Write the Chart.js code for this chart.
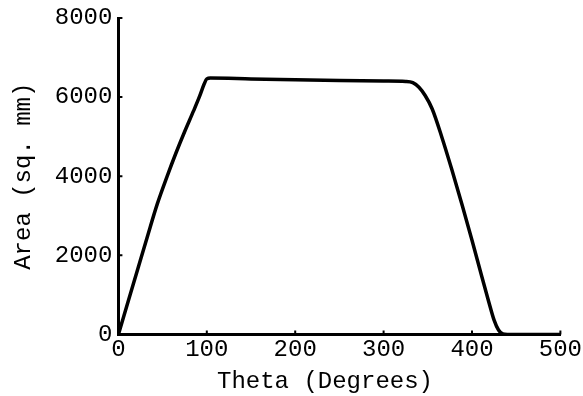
<!DOCTYPE html>
<html>
<head>
<meta charset="utf-8">
<script src="https://cdn.jsdelivr.net/npm/chart.js@4"></script>
<style>
  html, body { margin: 0; padding: 0; background: #fff; }
  #wrap { width: 583px; height: 396px; }
</style>
</head>
<body>
<div id="wrap"><canvas id="areaChart"></canvas></div>
<script>
// values
const thetaValues = [0, 11, 22, 33, 44, 55, 65, 75, 85, 92, 97, 100, 104, 150, 200, 250, 300, 325, 333, 340, 347, 355, 366, 377, 389, 400, 411, 419, 425, 430, 435, 440, 500];
const areaValues  = [0, 830, 1660, 2490, 3300, 3990, 4580, 5130, 5650, 6030, 6330, 6460, 6480, 6460, 6440, 6420, 6405, 6395, 6365, 6250, 6040, 5700, 4980, 4180, 3260, 2380, 1470, 820, 360, 110, 10, 0, 0];
const xTicks = [0, 100, 200, 300, 400, 500];
const yTicks = [0, 2000, 4000, 6000, 8000];

const FONT = "'Liberation Mono', 'Courier New', monospace";

// little tick marks drawn on the inside of the axes, like the original
const innerTicks = {
  id: 'innerTicks',
  afterDraw(chart) {
    const ctx = chart.ctx;
    const x = chart.scales.x, y = chart.scales.y;
    ctx.save();
    ctx.strokeStyle = '#000';
    ctx.lineWidth = 2;
    ctx.beginPath();
    yTicks.slice(1).forEach(v => {
      const py = y.getPixelForValue(v);
      ctx.moveTo(x.left, py);
      ctx.lineTo(x.left + 4, py);
    });
    xTicks.slice(1).forEach(v => {
      const px = x.getPixelForValue(v);
      ctx.moveTo(px, y.bottom);
      ctx.lineTo(px, y.bottom - 4);
    });
    ctx.stroke();
    ctx.restore();
  }
};

new Chart(document.getElementById('areaChart'), {
  type: 'line',
  data: {
    datasets: [{
      data: thetaValues.map((t, i) => ({ x: t, y: areaValues[i] })),
      borderColor: '#000',
      borderWidth: 3.5,
      pointRadius: 0,
      fill: false,
      cubicInterpolationMode: 'monotone'
    }]
  },
  options: {
    responsive: true,
    maintainAspectRatio: false,
    animation: false,
    layout: { padding: { left: 9, top: -2, right: 4, bottom: 0 } },
    plugins: { legend: { display: false }, tooltip: { enabled: false } },
    scales: {
      x: {
        type: 'linear',
        min: 0,
        max: 500,
        afterBuildTicks: s => { s.ticks = xTicks.map(v => ({ value: v })); },
        grid: { drawOnChartArea: false, drawTicks: false, color: 'transparent' },
        border: { color: '#000', width: 3 },
        ticks: { color: '#000', padding: 1, font: { family: FONT, size: 24 }, callback: v => String(v) },
        title: {
          display: true,
          text: 'Theta (Degrees)  ',
          color: '#000',
          padding: { top: 2, bottom: 0 },
          font: { family: FONT, size: 24 }
        }
      },
      y: {
        min: 0,
        max: 8000,
        afterBuildTicks: s => { s.ticks = yTicks.map(v => ({ value: v })); },
        grid: { drawOnChartArea: false, drawTicks: false, color: 'transparent' },
        border: { color: '#000', width: 3 },
        ticks: { color: '#000', padding: 6, font: { family: FONT, size: 24, lineHeight: 1 }, callback: v => String(v) },
        title: {
          display: true,
          text: 'Area (sq. mm)',
          color: '#000',
          padding: { top: 0, bottom: 11 },
          font: { family: FONT, size: 24 }
        }
      }
    }
  },
  plugins: [innerTicks]
});
</script>
</body>
</html>
